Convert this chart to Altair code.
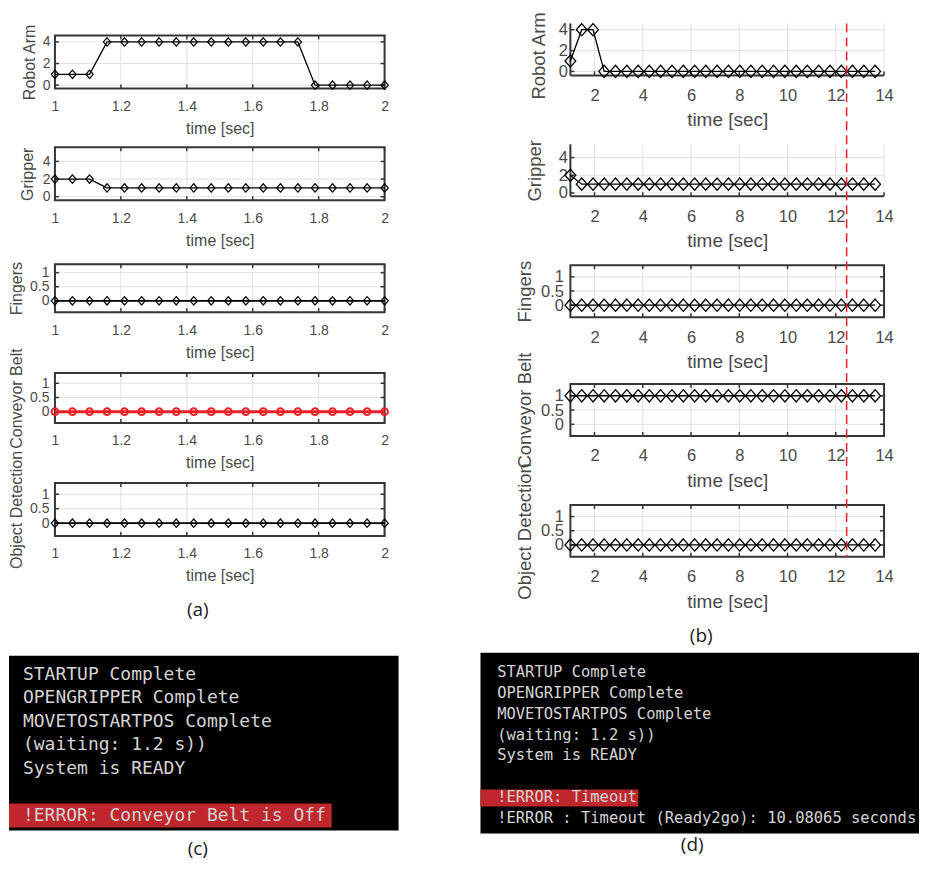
import altair as alt
import pandas as pd

# ---------------- data ----------------
# (a): run with the conveyor belt switched off
t_a = [1.000, 1.053, 1.105, 1.158, 1.211, 1.263, 1.316, 1.368, 1.421, 1.474,
       1.526, 1.579, 1.632, 1.684, 1.737, 1.789, 1.842, 1.895, 1.947, 2.000]
robot_arm_a = [1, 1, 1, 4, 4, 4, 4, 4, 4, 4, 4, 4, 4, 4, 4, 0, 0, 0, 0, 0]
gripper_a = [2, 2, 2, 1, 1, 1, 1, 1, 1, 1, 1, 1, 1, 1, 1, 1, 1, 1, 1, 1]
fingers_a = [0, 0, 0, 0, 0, 0, 0, 0, 0, 0, 0, 0, 0, 0, 0, 0, 0, 0, 0, 0]
conveyor_a = [0, 0, 0, 0, 0, 0, 0, 0, 0, 0, 0, 0, 0, 0, 0, 0, 0, 0, 0, 0]
objdet_a = [0, 0, 0, 0, 0, 0, 0, 0, 0, 0, 0, 0, 0, 0, 0, 0, 0, 0, 0, 0]

# (b): run that ends in a timeout
t_b = [1.00, 1.47, 1.94, 2.40, 2.87, 3.34, 3.81, 4.27, 4.74, 5.21,
       5.68, 6.15, 6.61, 7.08, 7.55, 8.02, 8.48, 8.95, 9.42, 9.89,
       10.36, 10.82, 11.29, 11.76, 12.23, 12.69, 13.16, 13.63]
robot_arm_b = [1, 4, 4, 0, 0, 0, 0, 0, 0, 0, 0, 0, 0, 0,
               0, 0, 0, 0, 0, 0, 0, 0, 0, 0, 0, 0, 0, 0]
gripper_b = [2, 1, 1, 1, 1, 1, 1, 1, 1, 1, 1, 1, 1, 1,
             1, 1, 1, 1, 1, 1, 1, 1, 1, 1, 1, 1, 1, 1]
fingers_b = [0, 0, 0, 0, 0, 0, 0, 0, 0, 0, 0, 0, 0, 0,
             0, 0, 0, 0, 0, 0, 0, 0, 0, 0, 0, 0, 0, 0]
conveyor_b = [1, 1, 1, 1, 1, 1, 1, 1, 1, 1, 1, 1, 1, 1,
              1, 1, 1, 1, 1, 1, 1, 1, 1, 1, 1, 1, 1, 1]
objdet_b = [0, 0, 0, 0, 0, 0, 0, 0, 0, 0, 0, 0, 0, 0,
            0, 0, 0, 0, 0, 0, 0, 0, 0, 0, 0, 0, 0, 0]
timeout_t = [12.45]

signal_names = ["Robot Arm", "Gripper", "Fingers", "Conveyor Belt", "Object Detection"]
xticks_a = [1, 1.2, 1.4, 1.6, 1.8, 2]
xticks_b = [2, 4, 6, 8, 10, 12, 14]
yticks_state = [0, 2, 4]
yticks_bin = [0, 0.5, 1]

term_c = ["STARTUP Complete", "OPENGRIPPER Complete", "MOVETOSTARTPOS Complete",
          "(waiting: 1.2 s))", "System is READY", "", "!ERROR: Conveyor Belt is Off"]
term_d = ["STARTUP Complete", "OPENGRIPPER Complete", "MOVETOSTARTPOS Complete",
          "(waiting: 1.2 s))", "System is READY", "", "!ERROR: Timeout",
          "!ERROR : Timeout (Ready2go): 10.08065 seconds"]
captions = ["(a)", "(b)", "(c)", "(d)"]

# ---------------- layout & style ----------------
W, H = 911, 858
FONT = "Liberation Sans"
MONO = "DejaVu Sans Mono"
TXT = "#4a4a4a"
FRAME = "#363636"
GRID = "#e2e2e2"
RED = "#ec2027"
DIAMOND = "M0,-1L0.88,0L0,1L-0.88,0Z"

STYLE_A = dict(xr=(46, 376), xd=(1, 2), xt=xticks_a, lfs=14, xtfs=16, ytfs=16,
               xlp=11, xtp=7, msize=69, mw=1.2)
STYLE_B = dict(xr=(562, 876), xd=(1, 14), xt=xticks_b, lfs=16.5, xtfs=19, ytfs=18.5,
               xlp=12, xtp=7, msize=151, mw=1.3)


def panel(t, v, ylabel, st, yr, yd, yt, box, ytpad, ylp,
          color="black", marker=DIAMOND, msize=None, lw=1.3, mw=None, title_y=None):
    xr, xd, xt = st["xr"], st["xd"], st["xt"]
    xs = alt.Scale(domain=list(xd), range=list(xr), nice=False, zero=False)
    ys = alt.Scale(domain=list(yd), range=list(yr), nice=False, zero=False)

    def X(f, axis=None):
        return alt.X(f, type="quantitative", scale=xs, axis=axis)

    def Y(f, axis=None):
        return alt.Y(f, type="quantitative", scale=ys, axis=axis)

    gx = pd.DataFrame({"x": xt, "lo": yd[0], "hi": yd[1]})
    gy = pd.DataFrame({"y": yt, "lo": xd[0], "hi": xd[1]})
    fr = pd.DataFrame({"x0": [xd[0]], "x1": [xd[1]], "y0": [yd[0]], "y1": [yd[1]]})
    out = [
        alt.Chart(gx).mark_rule(color=GRID, strokeWidth=1).encode(x=X("x"), y=Y("lo"), y2="hi"),
        alt.Chart(gy).mark_rule(color=GRID, strokeWidth=1).encode(y=Y("y"), x=X("lo"), x2="hi"),
    ]
    tick = dict(color=FRAME, strokeWidth=1.5)
    out.append(alt.Chart(gx).mark_rule(y2Offset=-4, **tick).encode(x=X("x"), y=Y("lo"), y2="lo"))
    out.append(alt.Chart(gy).mark_rule(x2Offset=4, **tick).encode(y=Y("y"), x=X("lo"), x2="lo"))
    if box:
        out.append(alt.Chart(gx).mark_rule(y2Offset=4, **tick).encode(x=X("x"), y=Y("hi"), y2="hi"))
        out.append(alt.Chart(gy).mark_rule(x2Offset=-4, **tick).encode(y=Y("y"), x=X("hi"), x2="hi"))
        out.append(alt.Chart(fr).mark_rect(fillOpacity=0, stroke=FRAME, strokeWidth=2)
                   .encode(x=X("x0"), x2="x1", y=Y("y0"), y2="y1"))
    else:
        out.append(alt.Chart(fr).mark_rule(color=FRAME, strokeWidth=2)
                   .encode(x=X("x0"), y=Y("y0"), y2="y1"))
        out.append(alt.Chart(fr).mark_rule(color=FRAME, strokeWidth=2)
                   .encode(x=X("x0"), x2="x1", y=Y("y0")))

    common = dict(grid=False, domain=False, ticks=False, format="~g",
                  labelFont=FONT, labelFontSize=st["lfs"], labelColor=TXT,
                  titleFont=FONT, titleColor=TXT, titleFontWeight="normal",
                  labelFlush=False, labelOverlap=False)
    xaxis = alt.Axis(orient="bottom", offset=yr[0] - H, values=xt, title="time [sec]",
                     labelPadding=st["xlp"], titlePadding=st["xtp"],
                     titleFontSize=st["xtfs"], **common)
    yextra = {"titleY": title_y} if title_y is not None else {}
    yaxis = alt.Axis(orient="left", offset=-xr[0], values=yt, title=ylabel,
                     labelPadding=ylp, titlePadding=ytpad, minExtent=0,
                     titleFontSize=st["ytfs"], **yextra, **common)

    df = pd.DataFrame({"t": t, "v": v})
    out.append(alt.Chart(df).mark_line(color=color, strokeWidth=lw)
               .encode(x=X("t", xaxis), y=Y("v", yaxis)))
    out.append(alt.Chart(df).mark_point(shape=marker, size=msize or st["msize"], filled=False,
                                        color=color, strokeWidth=mw or st["mw"], opacity=1)
               .encode(x=X("t"), y=Y("v")))
    return out


layers = []
# ----- column (a) -----
layers += panel(t_a, robot_arm_a, signal_names[0], STYLE_A, (80, 27), (-0.3, 4.6), yticks_state, True, 5, 5)
layers += panel(t_a, gripper_a, signal_names[1], STYLE_A, (192, 139), (-0.4, 5.6), yticks_state, True, 7, 5)
layers += panel(t_a, fingers_a, signal_names[2], STYLE_A, (304, 256), (-0.4, 1.3), yticks_bin, True, 5, 6, lw=1.8)
layers += panel(t_a, conveyor_a, signal_names[3], STYLE_A, (415, 365), (-0.4, 1.36), yticks_bin, True, 5, 6,
                color=RED, marker="circle", msize=45, lw=3, mw=2)
layers += panel(t_a, objdet_a, signal_names[4], STYLE_A, (528, 475), (-0.44, 1.39), yticks_bin, True, 5, 6, lw=1.8)
# ----- column (b) -----
layers += panel(t_b, robot_arm_b, signal_names[0], STYLE_B, (67, 15), (-0.38, 4.6), yticks_state, False, 10, 3,
                title_y=47)
layers += panel(t_b, gripper_b, signal_names[1], STYLE_B, (188, 136), (-0.37, 5.5), yticks_state, False, 14, 3)
layers += panel(t_b, fingers_b, signal_names[2], STYLE_B, (309, 257), (-0.42, 1.41), yticks_bin, True, 6, 7)
layers += panel(t_b, conveyor_b, signal_names[3], STYLE_B, (428, 376), (-0.41, 1.41), yticks_bin, True, 6, 7)
layers += panel(t_b, objdet_b, signal_names[4], STYLE_B, (549, 497), (-0.42, 1.41), yticks_bin, True, 6, 7)

# timeout marker across column (b)
xs_b = alt.Scale(domain=list(STYLE_B["xd"]), range=list(STYLE_B["xr"]), nice=False, zero=False)
layers.append(alt.Chart(pd.DataFrame({"t": timeout_t}))
              .mark_rule(color=RED, strokeDash=[9, 5], strokeWidth=1.5)
              .encode(x=alt.X("t:Q", scale=xs_b, axis=None), y=alt.value(15), y2=alt.value(549)))


# ----- terminal screenshots (c) and (d) -----
def terminal(lines, x0, x1, y0, y1, bar_x1, bar_y0, bar_y1, text_x, base0, step, fs):
    one = pd.DataFrame({"k": [0]})
    bg = alt.Chart(one).mark_rect(color="black").encode(
        x=alt.value(x0), x2=alt.value(x1), y=alt.value(y0), y2=alt.value(y1))
    bar = alt.Chart(one).mark_rect(color="#c0272d").encode(
        x=alt.value(x0), x2=alt.value(bar_x1), y=alt.value(bar_y0), y2=alt.value(bar_y1))
    n = len(lines) - 1
    df = pd.DataFrame({"row": list(range(len(lines))), "txt": lines})
    txt = alt.Chart(df).mark_text(align="left", baseline="alphabetic", font=MONO,
                                  fontSize=fs, color="#d4d4d4").encode(
        x=alt.value(text_x),
        y=alt.Y("row:Q", scale=alt.Scale(domain=[0, n], range=[base0, base0 + n * step],
                                        nice=False, zero=False), axis=None),
        text="txt:N")
    return [bg, bar, txt]


layers += terminal(term_c, 0, 390, 648, 823, 323, 796, 820, 14, 672, 23.6, 18)
layers += terminal(term_d, 472, 911, 645, 826, 630, 782, 799, 488.7, 669.6, 20.8, 15.5)

# ----- sub-figure captions -----
cap_pos = [(189, 602), (693, 628), (189, 841), (684, 837)]
for cap, (cx, cy) in zip(captions, cap_pos):
    layers.append(alt.Chart(pd.DataFrame({"c": [cap]})).mark_text(
        font="Open Sans", fontSize=19, color="#1a1a1a", baseline="middle", align="center")
        .encode(x=alt.value(cx), y=alt.value(cy), text="c:N"))

chart = (alt.layer(*layers)
         .resolve_scale(x="independent", y="independent")
         .resolve_axis(x="independent", y="independent")
         .properties(width=W, height=H, padding=0)
         .configure_view(stroke=None))

chart.save("out.html", embed_options={"renderer": "svg", "actions": False})
